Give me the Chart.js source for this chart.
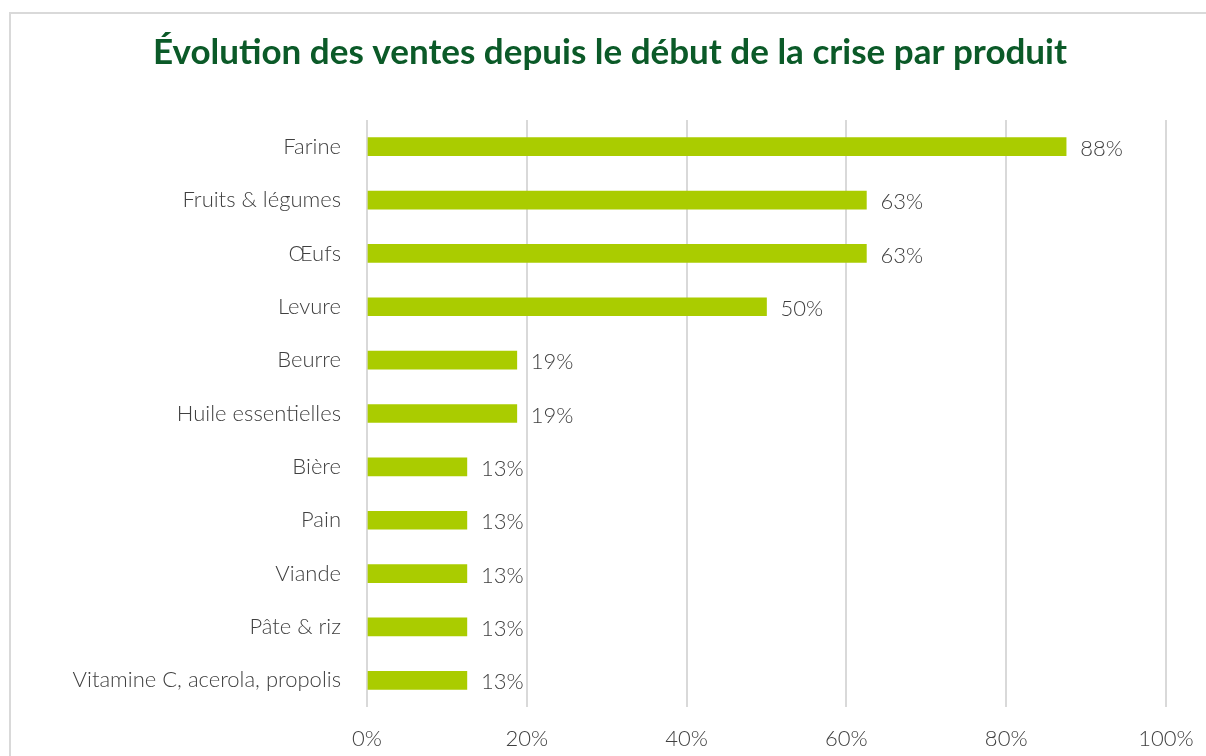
<!DOCTYPE html>
<html>
<head>
<meta charset="utf-8">
<script src="https://cdn.jsdelivr.net/npm/chart.js@4"></script>
<style>
  html, body { margin: 0; padding: 0; background: #fff; overflow: hidden; }
  .frame { position: absolute; left: 9px; top: 12px; width: 1300px; height: 900px; border: 2px solid #d9d9d9; }
  #bar-chart { position: absolute; left: 0; top: 0; }
</style>
</head>
<body>
<div class="frame"></div>
<canvas id="bar-chart" width="1206" height="756"></canvas>
<script>
// Data
var labels = ["Farine", "Fruits & légumes", "Œufs", "Levure", "Beurre", "Huile essentielles",
              "Bière", "Pain", "Viande", "Pâte & riz", "Vitamine C, acerola, propolis"];
var salesGrowth = [87.5, 62.5, 62.5, 50, 18.75, 18.75, 12.5, 12.5, 12.5, 12.5, 12.5];
var xTicks = [0, 20, 40, 60, 80, 100];

var textColor = "#404040";
var fontFamily = "Lato, 'Open Sans', sans-serif";

// draw the value at the end of each bar
var valueLabels = {
  id: "valueLabels",
  afterDatasetsDraw: function(chart) {
    var ctx = chart.ctx;
    var meta = chart.getDatasetMeta(0);
    ctx.save();
    ctx.font = "300 22px " + fontFamily;
    ctx.fillStyle = textColor;
    ctx.textAlign = "left";
    ctx.textBaseline = "middle";
    meta.data.forEach(function(bar, i) {
      var v = chart.data.datasets[0].data[i];
      ctx.fillText(Math.round(v) + "%", bar.x + 14, bar.y + 2);
    });
    ctx.restore();
  }
};

function createChart() {
  new Chart(document.getElementById("bar-chart"), {
    type: "bar",
    data: {
      labels: labels,
      datasets: [
        {
          label: "Évolution",
          backgroundColor: "#aacc00",
          barThickness: 18,
          data: salesGrowth
        }
      ]
    },
    plugins: [valueLabels],
    options: {
      indexAxis: "y",
      responsive: false,
      animation: false,
      layout: { padding: { left: 54, right: 40, top: 0, bottom: 0 } },
      plugins: {
        legend: { display: false },
        tooltip: { enabled: false },
        title: {
          display: true,
          text: "Évolution des ventes depuis le début de la crise par produit",
          color: "#0b5a28",
          font: { family: fontFamily, size: 35, weight: "bold" },
          padding: { top: 32, bottom: 46 }
        }
      },
      scales: {
        x: {
          min: 0,
          max: 100,
          afterBuildTicks: function(scale) {
            scale.ticks = xTicks.map(function(v) { return { value: v }; });
          },
          afterFit: function(scale) {
            scale.height = 49;
            scale.paddingLeft = 0;
            scale.paddingRight = 0;
          },
          grid: { color: "#d9d9d9", lineWidth: 2, drawTicks: false },
          border: { display: false },
          ticks: {
            color: textColor,
            padding: 19,
            font: { family: fontFamily, size: 22, weight: "300" },
            callback: function(v) { return v + "%"; }
          }
        },
        y: {
          afterFit: function(scale) { scale.width = 313; },
          grid: { display: false },
          border: { display: false },
          ticks: {
            color: textColor,
            padding: 18,
            font: { family: fontFamily, size: 22, weight: "300" }
          }
        }
      }
    }
  });
}

createChart();
</script>
</body>
</html>
